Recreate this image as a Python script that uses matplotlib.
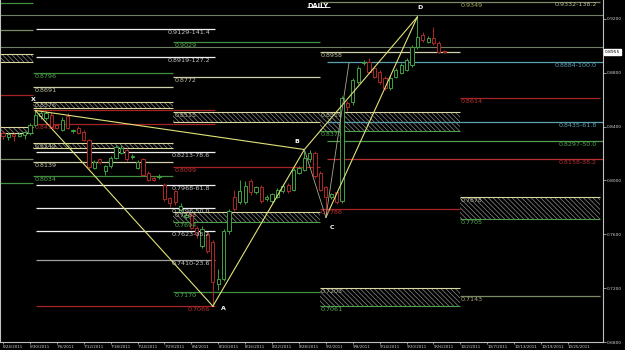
import matplotlib
matplotlib.use("Agg")
import matplotlib.pyplot as plt
from matplotlib.patches import Rectangle

# daily candles, bar 0 = 6/24/2011
opens = [0.8356, 0.8326, 0.8345, 0.8330, 0.8340, 0.8356, 0.8415, 0.8480, 0.8467, 0.8489,
         0.8410, 0.8378, 0.8480, 0.8365, 0.8393, 0.8363, 0.8300, 0.8096, 0.8156, 0.8067,
         0.8104, 0.8170, 0.8207, 0.8230, 0.8175, 0.8096, 0.8156, 0.8059, 0.8022, 0.8025,
         0.7970, 0.7870, 0.7919, 0.7780, 0.7726, 0.7740, 0.7650, 0.7511, 0.7600, 0.7541,
         0.7230, 0.7267, 0.7622, 0.7880, 0.7837, 0.7837, 0.7993, 0.7911, 0.7948, 0.7859,
         0.7844, 0.7881, 0.7919, 0.7970, 0.7933, 0.8059, 0.8081, 0.8156, 0.8207, 0.8059,
         0.7948, 0.7874, 0.7911, 0.7844, 0.8578, 0.8585, 0.8733, 0.8870, 0.8881, 0.8837,
         0.8807, 0.8763, 0.8689, 0.8770, 0.8800, 0.8822, 0.8859, 0.8993, 0.9081, 0.9030,
         0.9059, 0.9022, 0.8963]
highs = [0.8370, 0.8360, 0.8356, 0.8360, 0.8370, 0.8430, 0.8526, 0.8520, 0.8520, 0.8510,
         0.8420, 0.8470, 0.8500, 0.8380, 0.8405, 0.8375, 0.8310, 0.8150, 0.8165, 0.8115,
         0.8180, 0.8265, 0.8260, 0.8245, 0.8200, 0.8150, 0.8170, 0.8070, 0.8030, 0.8045,
         0.7985, 0.7880, 0.7930, 0.7830, 0.7760, 0.7760, 0.7665, 0.7660, 0.7620, 0.7560,
         0.7340, 0.7640, 0.7790, 0.7930, 0.8007, 0.7993, 0.8010, 0.7960, 0.7965, 0.7890,
         0.7910, 0.7945, 0.7975, 0.7985, 0.8095, 0.8110, 0.8232, 0.8225, 0.8220, 0.8070,
         0.7960, 0.7910, 0.7925, 0.8630, 0.8590, 0.8760, 0.8850, 0.8895, 0.8910, 0.8850,
         0.8820, 0.8775, 0.8775, 0.8835, 0.8875, 0.8910, 0.9005, 0.9215, 0.9100, 0.9075,
         0.9141, 0.9035, 0.8970]
lows = [0.8310, 0.8300, 0.8290, 0.8320, 0.8310, 0.8340, 0.8400, 0.8460, 0.8450, 0.8390,
        0.8380, 0.8370, 0.8385, 0.8355, 0.8345, 0.8295, 0.8085, 0.8085, 0.8125, 0.8044,
        0.8095, 0.8160, 0.8195, 0.8145, 0.8160, 0.8085, 0.8030, 0.7995, 0.7995, 0.8010,
        0.7845, 0.7800, 0.7820, 0.7760, 0.7715, 0.7640, 0.7570, 0.7500, 0.7460, 0.7066,
        0.7190, 0.7250, 0.7600, 0.7770, 0.7825, 0.7825, 0.7895, 0.7900, 0.7835, 0.7850,
        0.7835, 0.7870, 0.7905, 0.7905, 0.7920, 0.8045, 0.8070, 0.8140, 0.8015, 0.7920,
        0.7726, 0.7860, 0.7825, 0.7830, 0.8520, 0.8560, 0.8720, 0.8855, 0.8795, 0.8760,
        0.8720, 0.8675, 0.8675, 0.8760, 0.8790, 0.8810, 0.8845, 0.8980, 0.9030, 0.9020,
        0.9010, 0.8945, 0.8945]
closes = [0.8330, 0.8345, 0.8330, 0.8345, 0.8360, 0.8415, 0.8489, 0.8500, 0.8504, 0.8400,
          0.8393, 0.8452, 0.8393, 0.8372, 0.8356, 0.8304, 0.8100, 0.8141, 0.8135, 0.8104,
          0.8170, 0.8252, 0.8244, 0.8156, 0.8180, 0.8141, 0.8044, 0.8007, 0.8007, 0.8030,
          0.7859, 0.7830, 0.7837, 0.7810, 0.7745, 0.7650, 0.7600, 0.7637, 0.7474, 0.7244,
          0.7267, 0.7622, 0.7770, 0.7785, 0.7919, 0.7956, 0.7911, 0.7948, 0.7844, 0.7874,
          0.7896, 0.7933, 0.7956, 0.7919, 0.8081, 0.8096, 0.8170, 0.8207, 0.8030, 0.7933,
          0.7874, 0.7896, 0.7837, 0.8615, 0.8548, 0.8748, 0.8837, 0.8878, 0.8807, 0.8770,
          0.8733, 0.8689, 0.8763, 0.8822, 0.8859, 0.8896, 0.8993, 0.9067, 0.9044, 0.9059,
          0.9022, 0.8956, 0.8955]

date_labels = ["6/24/2011", "6/30/2011", "7/6/2011", "7/12/2011", "7/18/2011", "7/24/2011",
               "7/29/2011", "8/4/2011", "8/10/2011", "8/16/2011", "8/22/2011", "8/28/2011",
               "9/2/2011", "9/8/2011", "9/14/2011", "9/20/2011", "9/26/2011", "10/2/2011",
               "10/7/2011", "10/13/2011", "10/19/2011", "10/25/2011"]
price_ticks = [0.92, 0.88, 0.84, 0.80, 0.76, 0.72, 0.68]
last_price = 0.8955

# XABCD pattern
pivot_names = ["X", "A", "B", "C", "D"]
pivot_bars = [6, 39, 56, 60, 77]
pivot_prices = [0.8520, 0.7066, 0.8230, 0.7726, 0.9215]

# XA fibs (white, left block)
fib_prices = [0.9129, 0.8919, 0.8213, 0.7968, 0.7796, 0.7623, 0.7410]
fib_labels = ["0.9129-141.4", "0.8919-127.2", "0.8213-78.6", "0.7968-61.8",
              "0.7796-50.0", "0.7623-38.2", "0.7410-23.6"]

# projection levels (right)
proj_prices = [0.9332, 0.8884, 0.8435, 0.8297, 0.8158]
proj_labels = ["0.9332-138.2", "0.8884-100.0", "0.8435-61.8", "0.8297-50.0", "0.8158-38.2"]
proj_colors = ["#b8b890", "#5aa0b0", "#5aa0b0", "#4f9f4f", "#b83030"]

# horizontal levels per block: price, colour, label
lv_left = [(0.9319, "green", ""), (0.9119, "olive", ""), (0.8637, "red", ""),
           (0.8163, "olive", ""), (0.7978, "green", "")]
lv_m1 = [(0.8796, "green", "0.8796"), (0.8691, "cream", "0.8691"), (0.8416, "red", "0.8416"),
         (0.8526, "red", ""), (0.8139, "cream", "0.8139"), (0.8034, "green", "0.8034")]
lv_m2 = [(0.9029, "green", "0.9029"), (0.8772, "cream", "0.8772"), (0.8099, "red", "0.8099"),
         (0.7170, "green", "0.7170")]
lv_m3 = [(0.8958, "cream", "0.8958"), (0.7786, "red", "0.7786")]
lv_r = [(0.8614, "red", "0.8614"), (0.7143, "olive", "0.7143")]

# hatched zones per block: low, high, top label, bottom label
zn_left = [(0.8881, 0.8941, "", ""), (0.8356, 0.8400, "", "")]
zn_m1 = [(0.8541, 0.8585, "0.8576", ""), (0.8244, 0.8281, "0.8249", "")]
zn_m2 = [(0.8437, 0.8511, "0.8515", ""), (0.7689, 0.7763, "0.7763", "0.7694")]
zn_m3 = [(0.8370, 0.8511, "0.8511", "0.8373"), (0.7067, 0.7200, "0.7203", "0.7061")]
zn_r = [(0.7711, 0.7881, "0.7878", "0.7705")]

cols = {"green": "#3f8f3f", "olive": "#7c8a66", "red": "#a82424", "cream": "#cfcfa8",
        "white": "#e8e8e8"}
txtcols = {"green": "#55a855", "olive": "#a8a880", "red": "#c03030", "cream": "#c0c0a0",
           "white": "#d8d8d8"}

plt.rcParams["hatch.linewidth"] = 0.5
plt.rcParams["hatch.color"] = "#8a8a8a"

fig = plt.figure(figsize=(6.25, 3.5), dpi=100, facecolor="black")
ax = fig.add_axes([0, 8 / 350, 603 / 625, 342 / 350], facecolor="black")
ax.set_xlim(-0.56, 111.5)
ax.set_ylim(0.68, 0.9341)

px = 0.00074  # one pixel in price
fs = 4.6

# block edges in bars
b_l = (-0.56, 5.6)
b_m1 = (5.6, 31.6)
b_m2 = (31.6, 58.9)
b_m3 = (58.9, 84.9)
b_r = (84.9, 111.0)

# full width lines
for p in [0.9230, 0.8993]:
    ax.hlines(p, -0.56, 111.5, color="#6f7f66", lw=0.8, zorder=1)


def block(edges, levels, zones, lab_x):
    x0, x1 = edges
    for p, c, lab in levels:
        ax.hlines(p, x0, x1, color=cols[c], lw=0.9, zorder=2)
        if lab:
            ax.text(lab_x, p - px, lab, color=txtcols[c], fontsize=fs, va="top",
                    ha="left", zorder=6)
    for lo, hi, top, bot in zones:
        ax.add_patch(Rectangle((x0, lo), x1 - x0, hi - lo, facecolor="black",
                               edgecolor="#8a8a8a", lw=0, hatch="\\\\\\\\\\\\\\", zorder=1.5))
        ax.hlines(hi, x0, x1, color="#d8d8a0", lw=0.8, zorder=2)
        ax.hlines(lo, x0, x1, color="#d8d8a0" if not bot else "#4f9f4f", lw=0.8, zorder=2)
        if top:
            ax.text(lab_x, hi - px, top, color="#b8b8a0", fontsize=fs, va="top", ha="left",
                    zorder=6)
        if bot:
            ax.text(lab_x, lo - px, bot, color="#55a855", fontsize=fs, va="top", ha="left",
                    zorder=6)


block(b_l, lv_left, zn_left, 0)
block(b_m1, lv_m1, zn_m1, 5.8)
block(b_m2, lv_m2, zn_m2, 31.8)
block(b_m3, lv_m3, zn_m3, 59.1)
block(b_r, lv_r, zn_r, 85.1)

# extended lines
ax.hlines(0.8416, 31.6, 39.4, color=cols["red"], lw=0.9, zorder=2)
ax.hlines(0.8526, 31.6, 39.4, color=cols["red"], lw=0.9, zorder=2)
ax.hlines(0.9326, 58.9, 111.0, color="#7c8a66", lw=0.9, zorder=2)
ax.text(85.1, 0.9326 - px, "0.9349", color="#a8a860", fontsize=fs, va="top", zorder=6)

# XA fibs
for p, lab in zip(fib_prices, fib_labels):
    c = "#a0a0a0" if lab.endswith("23.6") else "#f0f0f0"
    ax.hlines(p, 6.1, 39.4, color=c, lw=0.9, zorder=2)
    ax.text(38.5, p - px, lab, color="#c8c8c8", fontsize=fs, va="top", ha="right", zorder=6)
ax.hlines(0.7066, 6.1, 39.4, color=cols["red"], lw=0.9, zorder=2)
ax.text(38.5, 0.7066 - px, "0.7066", color=txtcols["red"], fontsize=fs, va="top",
        ha="right", zorder=6)

# projection levels
for i, (p, lab, c) in enumerate(zip(proj_prices, proj_labels, proj_colors)):
    if i > 0:
        ax.hlines(p, 60.2, 111.5, color=c, lw=0.9, zorder=2)
    ax.text(110.3, p - px, lab, color=c, fontsize=fs, va="top", ha="right", zorder=6)

# candles
for i in range(len(opens)):
    o, h, l, c = opens[i], highs[i], lows[i], closes[i]
    col = "#3fa03f" if c >= o else "#b02828"
    ax.vlines(i, l, h, color=col, lw=0.7, zorder=3)
    ax.add_patch(Rectangle((i - 0.3, min(o, c)), 0.6, max(abs(c - o), 0.0002),
                           facecolor="black", edgecolor=col, lw=0.7, zorder=4))

# pattern lines
yel = "#e2e27a"
xb, xp = pivot_bars, pivot_prices
ax.plot([xb[0], xb[1]], [xp[0], xp[1]], color=yel, lw=0.8, zorder=5)
ax.plot([xb[0], xb[2]], [xp[0], xp[2]], color=yel, lw=0.8, zorder=5)
ax.plot([xb[1], xb[2]], [xp[1], xp[2]], color=yel, lw=0.8, zorder=5)
ax.plot([xb[2], xb[4]], [xp[2], xp[4]], color=yel, lw=0.8, zorder=5)
ax.plot([xb[3], xb[4]], [xp[3], xp[4]], color=yel, lw=0.8, zorder=5)
ax.plot([xb[2], xb[3]], [xp[2], xp[3]], color="#a8a890", lw=0.6, zorder=5)
ax.plot([xb[3], 64.3], [xp[3], 0.8874], color="#a8a890", lw=0.6, zorder=5)

name_pos = [(5.6, 0.8600), (41.0, 0.7050), (54.6, 0.8290), (61.2, 0.7650), (77.5, 0.9285)]
for n, (bx, by) in zip(pivot_names, name_pos):
    ax.text(bx, by, n, color="white", fontsize=4.5, fontweight="bold", ha="center",
            va="center", zorder=7)

ax.text(58.6, 0.9300, "DAILY", color="white", fontsize=4.8, fontweight="bold",
        ha="center", va="center", zorder=7)
ax.hlines(0.9291, 56.5, 60.7, color="white", lw=0.6, zorder=7)

# axes
for s in ["top"]:
    ax.spines[s].set_visible(False)
for s in ["left", "right", "bottom"]:
    ax.spines[s].set_color("#c0c0c0")
    ax.spines[s].set_linewidth(0.8)
ax.yaxis.tick_right()
ax.set_yticks(price_ticks)
ax.set_yticklabels(["%.4f" % p for p in price_ticks])
ax.tick_params(axis="y", colors="#d0d0d0", labelsize=3.2, length=2, width=0.5, pad=1)
ax.set_xticks([5 * k for k in range(len(date_labels))])
ax.set_xticklabels(date_labels)
ax.tick_params(axis="x", colors="#d0d0d0", labelsize=2.9, length=1.5, width=0.5, pad=0.5)
for t in ax.get_xticklabels():
    t.set_ha("left")

ax.text(1.003, (last_price - 0.68) / (0.9341 - 0.68), "%.4f" % last_price,
        transform=ax.transAxes, fontsize=3.2, color="black", va="center", ha="left",
        bbox=dict(boxstyle="square,pad=0.25", facecolor="white", edgecolor="white"),
        clip_on=False, zorder=8)

fig.savefig("out.png", dpi=100, facecolor="black")
